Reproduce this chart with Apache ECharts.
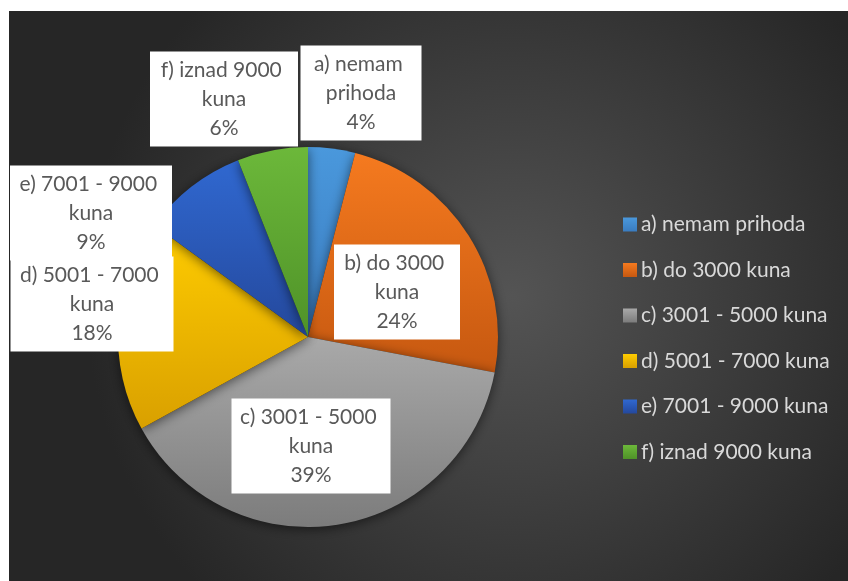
<!DOCTYPE html>
<html>
<head>
<meta charset="utf-8">
<script src="https://cdn.jsdelivr.net/npm/echarts@6/dist/echarts.min.js"></script>
<style>
  html, body { margin: 0; padding: 0; background: #ffffff; }
  #chart { position: absolute; left: 9px; top: 11px; width: 839px; height: 570px; }
</style>
</head>
<body>
<div id="chart"></div>
<script>
const categories = [
  "a) nemam prihoda",
  "b) do 3000 kuna",
  "c) 3001 - 5000 kuna",
  "d) 5001 - 7000 kuna",
  "e) 7001 - 9000 kuna",
  "f) iznad 9000 kuna",
];
const shares = [4, 24, 39, 18, 9, 6];

// top / bottom gradient stops per slice
const topColors = ["#4a98dc", "#f57a1f", "#a9a9a9", "#ffcc00", "#3068d0", "#6cb83a"];
const bottomColors = ["#3a7cc0", "#c65810", "#7c7c7c", "#d9a000", "#24489c", "#4f9228"];

// label box placement (chart-local px) and box widths
const labelBoxes = [
  { x: 352, y: 82, w: 121 },
  { x: 388, y: 281, w: 126 },
  { x: 302, y: 435, w: 159 },
  { x: 83, y: 293, w: 163 },
  { x: 82, y: 202, w: 162 },
  { x: 215, y: 88, w: 148 },
];

const chart = echarts.init(document.getElementById("chart"));

function sliceColor(i) {
  return new echarts.graphic.LinearGradient(0, 0, 0, 1, [
    { offset: 0, color: topColors[i] },
    { offset: 1, color: bottomColors[i] },
  ]);
}

const pieData = categories.map((name, i) => ({
  name,
  value: shares[i],
  itemStyle: { color: sliceColor(i) },
  label: { width: labelBoxes[i].w - 10 },
}));

chart.setOption({
  backgroundColor: new echarts.graphic.RadialGradient(0.6, 0.5, 0.75, [
    { offset: 0, color: "#545454" },
    { offset: 1, color: "#262626" },
  ]),
  animation: false,
  legend: {
    orient: "vertical",
    left: 609,
    top: 198,
    itemWidth: 14,
    itemHeight: 14,
    itemGap: 24.5,
    icon: "rect",
    textStyle: {
      color: "#d9d9d9",
      fontSize: 21,
      fontFamily: "Lato",
      padding: [0, 0, 0, -1],
    },
    data: categories,
  },
  series: [
    {
      type: "pie",
      center: [299, 326],
      radius: 190,
      startAngle: 90,
      clockwise: true,
      data: pieData,
      itemStyle: {
        shadowBlur: 12,
        shadowColor: "rgba(0,0,0,0.55)",
        shadowOffsetY: 2,
      },
      emphasis: { disabled: true },
      labelLine: { show: false },
      label: {
        show: true,
        position: "outside",
        formatter: "{b}\n{d}%",
        overflow: "break",
        color: "#595959",
        fontSize: 21,
        fontFamily: "Lato",
        lineHeight: 29,
        align: "center",
        backgroundColor: "#ffffff",
        padding: [4, 5, 4, 5],
      },
      labelLayout: (params) => {
        const box = labelBoxes[params.dataIndex];
        return {
          x: box.x,
          y: box.y,
          align: "center",
          verticalAlign: "middle",
        };
      },
    },
  ],
});
</script>
</body>
</html>
